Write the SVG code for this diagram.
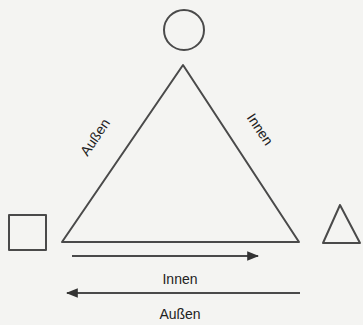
<svg xmlns="http://www.w3.org/2000/svg" width="363" height="325" viewBox="0 0 363 325">
<defs>
<style>
.ln{fill:none;stroke:#4a4a4a;stroke-width:2;stroke-linejoin:round}
.tx{font-family:"Liberation Sans",Arial,sans-serif;font-size:14px;fill:#222;text-anchor:middle}
</style>
<marker id="ah" viewBox="0 0 10 10" refX="9" refY="5" markerWidth="6" markerHeight="6" orient="auto-start-reverse" markerUnits="strokeWidth">
<path d="M0,1 L10,5 L0,9 Z" fill="#333"/>
</marker>
</defs>
<rect width="363" height="325" fill="#f4f4f2"/>
<g id="circle"><circle class="ln" cx="184" cy="30" r="20" stroke="#777" stroke-width="1.3"/></g>
<g id="triangle"><path class="ln" d="M183,65 L62,242 L299,242 Z"/></g>
<g id="square"><rect class="ln" x="9" y="215" width="37" height="35"/></g>
<g id="small-triangle"><path class="ln" d="M340,205 L323,243 L360,243 Z"/></g>
<g id="labels">
<text class="tx" transform="translate(99,140) rotate(-56)">Außen</text>
<text class="tx" transform="translate(256,132) rotate(56)">Innen</text>
<text class="tx" x="180" y="284">Innen</text>
<text class="tx" x="180" y="319">Außen</text>
</g>
<g id="connectors">
<line class="ln" x1="72" y1="256" x2="258" y2="256" stroke-width="1.6" marker-end="url(#ah)"/>
<line class="ln" x1="300" y1="293" x2="67" y2="293" stroke-width="1.6" marker-end="url(#ah)"/>
</g>
</svg>
